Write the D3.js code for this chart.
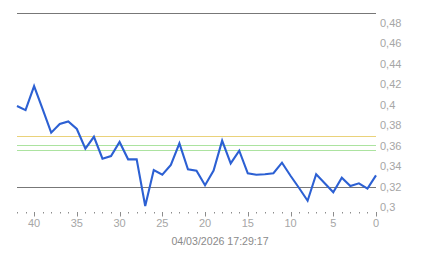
<!DOCTYPE html>
<html>
<head>
<meta charset="utf-8">
<script src="https://cdn.jsdelivr.net/npm/d3@7"></script>
<style>
  html, body { margin: 0; padding: 0; background: #fff; }
  svg { display: block; font-family: "Liberation Sans", Arial, sans-serif; }
</style>
</head>
<body>
<svg id="chart" width="443" height="258"></svg>
<script>
// minutes ago, 42 .. 0
var ages = [42, 41, 40, 39, 38, 37, 36, 35, 34, 33, 32, 31, 30, 29, 28, 27, 26, 25, 24, 23, 22,
    21, 20, 19, 18, 17, 16, 15, 14, 13, 12, 11, 10, 9, 8, 7, 6, 5, 4, 3, 2, 1, 0];
var values = [0.399, 0.395, 0.4185, 0.396, 0.373, 0.3815, 0.384, 0.3766, 0.3574, 0.369, 0.3476,
    0.3502, 0.3639, 0.347, 0.347, 0.3015, 0.3366, 0.332, 0.3415, 0.3626, 0.3373,
    0.336, 0.3217, 0.336, 0.3652, 0.343, 0.3554, 0.3334, 0.332, 0.3324, 0.3334, 0.3437,
    0.331, 0.319, 0.3066, 0.3324, 0.3236, 0.3148, 0.329, 0.321, 0.3236, 0.3184, 0.3314];
var yTicks = [0.3, 0.32, 0.34, 0.36, 0.38, 0.4, 0.42, 0.44, 0.46, 0.48];
var xTicks = [40, 35, 30, 25, 20, 15, 10, 5, 0];
var limits = [
    { v: 0.4895, c: "#777777" },
    { v: 0.37, c: "#ead27a" },
    { v: 0.361, c: "#ace3a0" },
    { v: 0.356, c: "#ace3a0" },
    { v: 0.32, c: "#777777" }
];
var stamp = "04/03/2026 17:29:17";

var svg = d3.select("#chart");
var x = d3.scaleLinear().domain([42, 0]).range([17, 376]);
var y = d3.scaleLinear().domain([0.32, 0.48]).range([187, 23]);
var fmt = function (d) { return String(+d.toFixed(2)).replace(".", ","); };

// limit lines
svg.append("g").selectAll("line").data(limits).enter().append("line")
    .attr("x1", 17).attr("x2", 376)
    .attr("y1", function (d) { return Math.round(y(d.v)) + 0.5; })
    .attr("y2", function (d) { return Math.round(y(d.v)) + 0.5; })
    .attr("stroke", function (d) { return d.c; })
    .attr("stroke-width", 1);

// y labels on the right
svg.append("g").selectAll("text").data(yTicks).enter().append("text")
    .attr("x", 380)
    .attr("y", function (d) { return y(d) + 3.5; })
    .attr("fill", "#a6a6a6")
    .attr("font-size", "11px")
    .text(fmt);

// x ticks
var minor = d3.range(0, 43);
svg.append("g").selectAll("line").data(minor).enter().append("line")
    .attr("x1", function (d) { return Math.round(x(d)) + 0.5; })
    .attr("x2", function (d) { return Math.round(x(d)) + 0.5; })
    .attr("y1", 212)
    .attr("y2", function (d) { return d % 5 == 0 ? 216.5 : 213.5; })
    .attr("stroke", "#8c8c8c")
    .attr("stroke-width", 1);

svg.append("g").selectAll("text").data(xTicks).enter().append("text")
    .attr("x", function (d) { return x(d); })
    .attr("y", 227)
    .attr("text-anchor", "middle")
    .attr("fill", "#a6a6a6")
    .attr("font-size", "11px")
    .text(function (d) { return d; });

svg.append("text")
    .attr("x", 220).attr("y", 244.5)
    .attr("text-anchor", "middle")
    .attr("fill", "#8a8a8a")
    .attr("font-size", "10.6px")
    .text(stamp);

// series
var line = d3.line()
    .x(function (d, i) { return x(ages[i]); })
    .y(function (d) { return y(d); });
svg.append("path")
    .datum(values)
    .attr("d", line)
    .attr("fill", "none")
    .attr("stroke", "#2c60d3")
    .attr("stroke-width", 2.1)
    .attr("stroke-linejoin", "miter");
</script>
</body>
</html>
